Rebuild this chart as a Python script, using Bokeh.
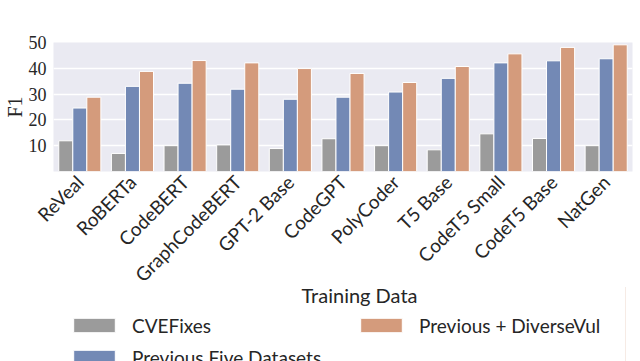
import math
from bokeh.plotting import figure
from bokeh.layouts import column
from bokeh.models import (FactorRange, Range1d, FixedTicker, Legend, LegendItem,
                          ColumnDataSource, Label)
from bokeh.transform import dodge
from bokeh.embed import file_html
from bokeh.resources import INLINE

models = ["ReVeal", "RoBERTa", "CodeBERT", "GraphCodeBERT", "GPT-2 Base", "CodeGPT",
          "PolyCoder", "T5 Base", "CodeT5 Small", "CodeT5 Base", "NatGen"]
cvefixes = [11.9, 7.0, 10.0, 10.3, 8.9, 12.7, 10.0, 8.4, 14.6, 12.8, 10.0]
prev_five = [24.6, 33.0, 34.2, 31.9, 28.0, 28.8, 30.8, 36.1, 42.1, 42.9, 43.7]
prev_diverse = [28.8, 38.8, 43.0, 42.1, 39.9, 38.0, 34.5, 40.7, 45.6, 48.1, 49.1]
series_labels = ["CVEFixes", "Previous Five Datasets", "Previous + DiverseVul"]
y_ticks = [10, 20, 30, 40, 50]
x_title = "Training Data"

colors = ["#9b9b9b", "#7389b5", "#d49b7c"]
TXT = "#262626"

src = ColumnDataSource(dict(models=models, a=cvefixes, b=prev_five, c=prev_diverse))

p = figure(x_range=FactorRange(factors=models, range_padding=0),
           y_range=Range1d(0, 50),
           frame_width=579, frame_height=129,
           output_backend="svg", toolbar_location=None,
           min_border_left=42, min_border_right=7, min_border_top=42,
           min_border_bottom=140)

bw = 0.8 / 3
for i, (col, c) in enumerate(zip(["a", "b", "c"], colors)):
    p.vbar(x=dodge("models", (i - 1) * bw, range=p.x_range), top=col, width=bw,
           source=src, fill_color=c, line_color="white", line_width=1)

p.background_fill_color = "#eaeaf2"
p.border_fill_color = "white"
p.outline_line_color = None
p.xgrid.grid_line_color = None
p.ygrid.grid_line_color = "white"
p.ygrid.grid_line_width = 1.3

p.yaxis.ticker = FixedTicker(ticks=y_ticks)
p.yaxis.axis_line_color = None
p.yaxis.major_tick_line_color = None
p.yaxis.minor_tick_line_color = None
p.yaxis.major_tick_out = 0
p.yaxis.major_label_text_font = "Liberation Serif"
p.yaxis.major_label_text_font_size = "18px"
p.yaxis.major_label_text_color = TXT
p.yaxis.major_label_standoff = 7
p.yaxis.axis_label = "F1"
p.yaxis.axis_label_text_font = "Liberation Serif"
p.yaxis.axis_label_text_font_size = "20px"
p.yaxis.axis_label_text_font_style = "normal"
p.yaxis.axis_label_text_color = TXT
p.yaxis.axis_label_standoff = 0

p.xaxis.axis_line_color = None
p.xaxis.major_tick_line_color = None
p.xaxis.minor_tick_line_color = None
p.xaxis.major_tick_out = 0
p.xaxis.major_label_orientation = math.pi / 4
p.xaxis.major_label_text_font = "Lato"
p.xaxis.major_label_text_font_size = "19px"
p.xaxis.major_label_text_color = TXT
p.xaxis.major_label_standoff = 7

# lower figure: axis title + legend (pulled up over the blank bottom of p)
q = figure(x_range=Range1d(0, 1), y_range=Range1d(0, 1), width=632, height=74,
           output_backend="svg", toolbar_location=None,
           x_axis_location=None, y_axis_location=None, min_border=0,
           styles={"margin-top": "-24px"})
q.xgrid.grid_line_color = None
q.ygrid.grid_line_color = None
q.outline_line_color = None
q.background_fill_alpha = 0
q.border_fill_alpha = 0

# legend proxies: same data, lying outside q's visible range
rs = []
for col, c in zip(["a", "b", "c"], colors):
    rs.append(q.vbar(x=col, top=col, width=0.1, source=src, fill_color=c,
                     line_color="white", line_width=1))

q.add_layout(Label(x=306, y=67, x_units="screen", y_units="screen", text=x_title,
                   text_align="center", text_baseline="alphabetic",
                   text_font="Lato", text_font_size="20px", text_color=TXT))

legend = Legend(items=[LegendItem(label=series_labels[0], renderers=[rs[0]]),
                       LegendItem(label=series_labels[2], renderers=[rs[2]]),
                       LegendItem(label=series_labels[1], renderers=[rs[1]])],
                location=(15, -8), orientation="horizontal", ncols=2,
                padding=0, margin=0, border_line_alpha=0, background_fill_alpha=0,
                glyph_width=52, glyph_height=18, label_standoff=12, spacing=8,
                label_width=215, label_height=24,
                label_text_font="Lato", label_text_font_size="19px",
                label_text_color=TXT)
q.add_layout(legend)

layout = column(p, q)
open("out.html", "w").write(file_html(layout, INLINE))
